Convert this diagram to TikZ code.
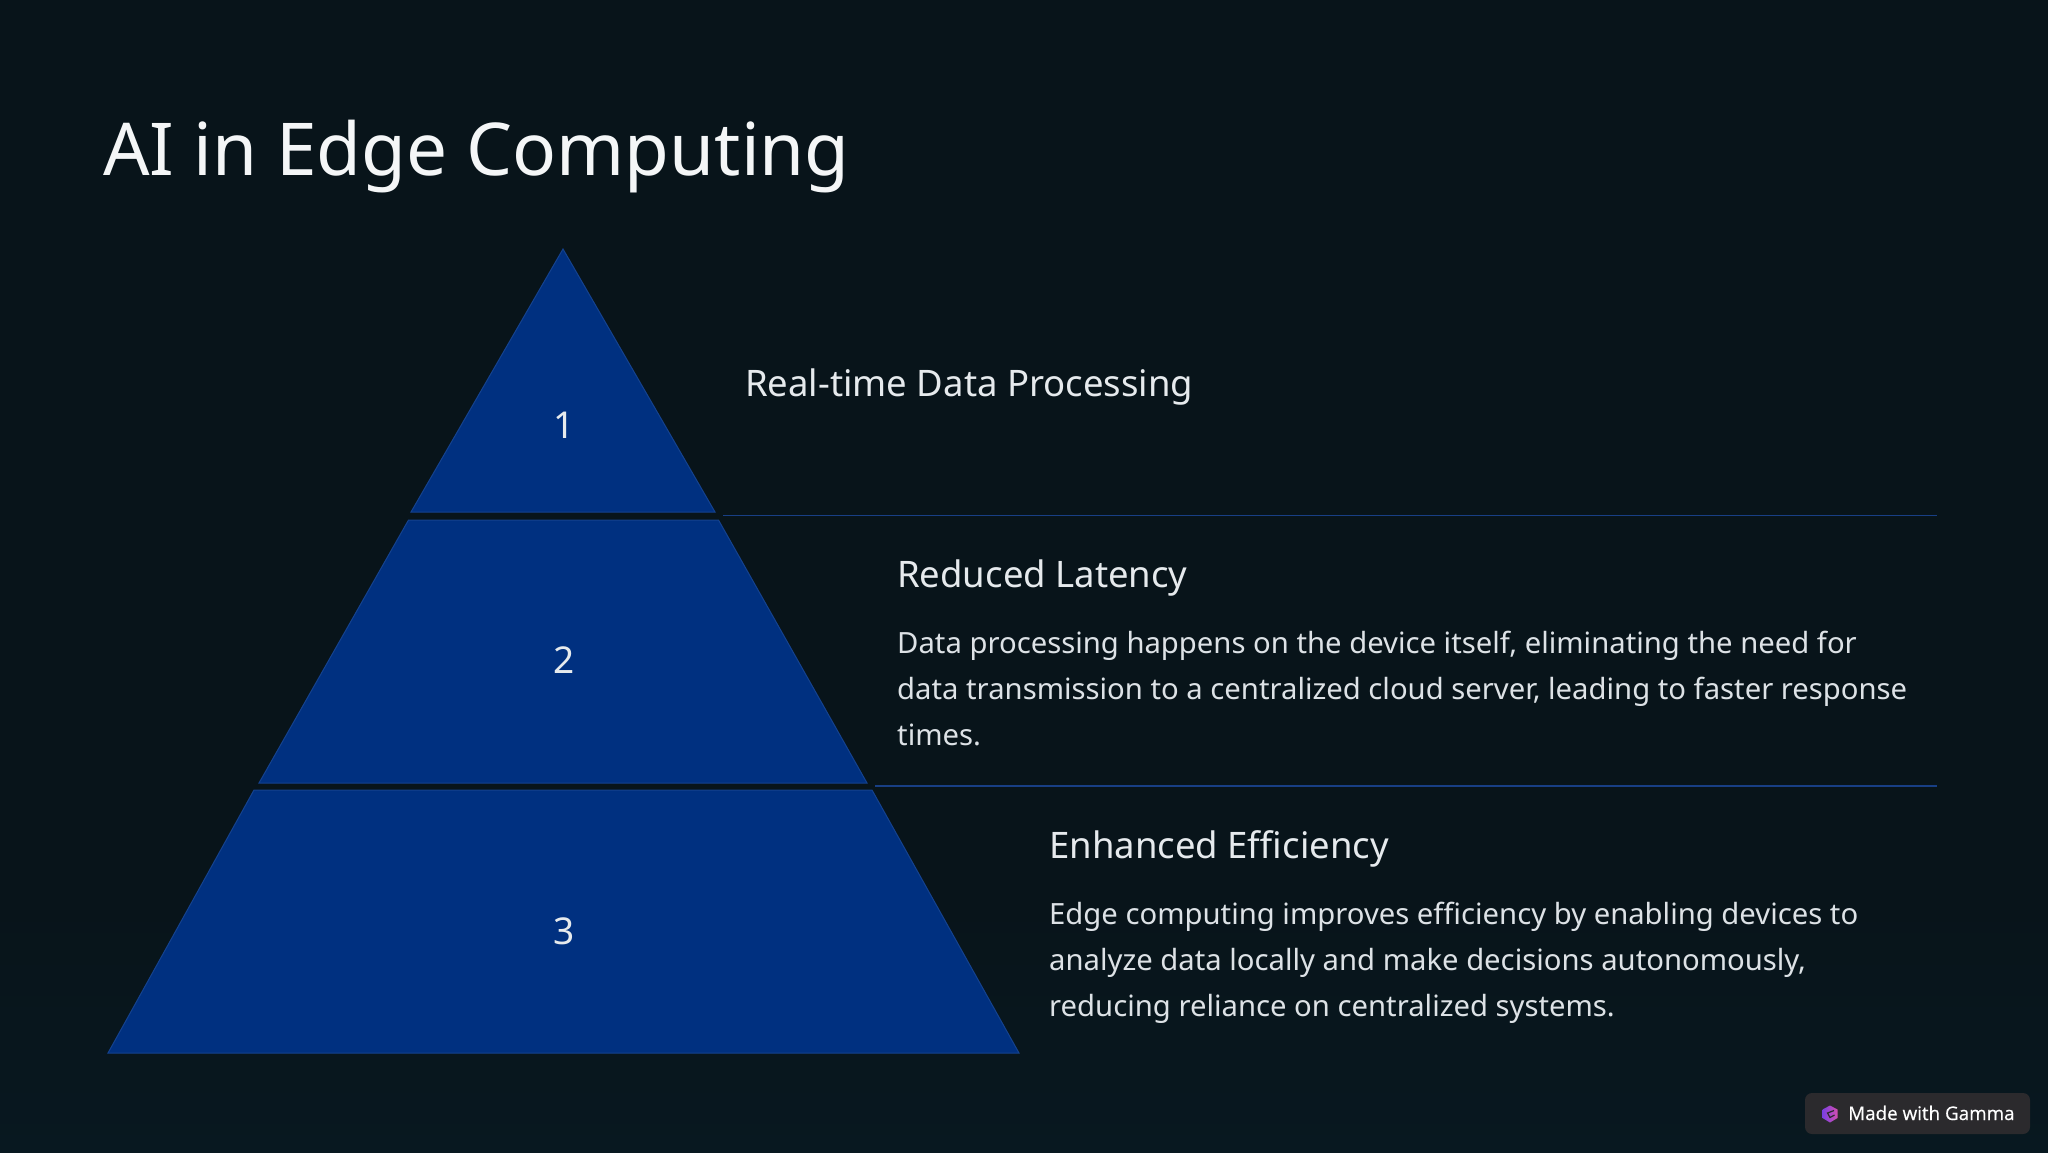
\documentclass[tikz,border=0pt]{standalone}
\usepackage{fontspec}
\setmainfont{Noto Sans}
\newfontfamily\badgefont[FakeBold=0.5]{Open Sans}
\usetikzlibrary{shadings}
\definecolor{bgdark}{HTML}{08141A}
\definecolor{bgedge}{HTML}{081820}
\definecolor{segblue}{HTML}{003080}
\definecolor{segline}{HTML}{14428F}
\definecolor{rulecol}{HTML}{183F85}
\definecolor{titletxt}{HTML}{F4F6F7}
\definecolor{headtxt}{HTML}{E6EAED}
\definecolor{bodytxt}{HTML}{DDE2E6}
\definecolor{badgebg}{HTML}{2B2A2D}
\definecolor{logoa}{HTML}{7B3FE0}
\definecolor{logob}{HTML}{D24FB0}
\tikzset{
  segment/.style={fill=segblue,draw=segline,line width=1pt,line join=miter},
  divider/.style={draw=rulecol,line width=1.5pt},
  numlabel/.style={text=headtxt,font=\fontsize{37}{44}\selectfont,inner sep=0pt,anchor=center},
  heading/.style={text=headtxt,font=\fontsize{36.5}{44}\selectfont,inner sep=0pt,anchor=base west},
  para/.style={text=bodytxt,font=\fontsize{29.25}{46}\selectfont,inner sep=0pt,anchor=north west,align=left},
}
\begin{document}
\begin{tikzpicture}[x=1pt,y=-1pt]
\useasboundingbox (0,0) rectangle (2048,1152);
\fill[bgdark] (-3,-3) rectangle (2051,1156);
\shade[top color=bgdark,bottom color=bgedge] (-3,900) rectangle (2051,1156);
\node[text=titletxt,font=\fontsize{72.9}{86}\selectfont,inner sep=0pt,anchor=base west] (title) at (103,175.5) {AI in Edge Computing};
\draw[segment] (563,249) -- (715,512) -- (411,512) -- cycle;
\draw[segment] (408.5,520) -- (718.5,520) -- (867,783) -- (259,783) -- cycle;
\draw[segment] (254,790) -- (872,790) -- (1019,1053) -- (108,1053) -- cycle;
\node[numlabel] (n1) at (564,425) {1};
\node[numlabel] (n2) at (564,660) {2};
\node[numlabel] (n3) at (564,931) {3};
\coordinate (r1a) at (723,515.5);
\coordinate (r1b) at (1937,515.5);
\coordinate (r2a) at (875,786);
\coordinate (r2b) at (1937,786);
\draw[divider] (r1a) -- (r1b);
\draw[divider] (r2a) -- (r2b);
\node[heading] (h1) at (745,396) {Real-time Data Processing};
\node[heading] (h2) at (897,587.5) {Reduced Latency};
\node[para] (p2) at (897,631) {Data processing happens on the device itself, eliminating the need for\\data transmission to a centralized cloud server, leading to faster response\\times.};
\node[heading] (h3) at (1049,858) {Enhanced Efficiency};
\node[para] (p3) at (1049,901.5) {Edge computing improves efficiency by enabling devices to\\analyze data locally and make decisions autonomously,\\reducing reliance on centralized systems.};
\fill[badgebg,rounded corners=7pt] (1805,1093) rectangle (2030,1134);
\shade[left color=logoa,right color=logob] (1830,1105.5) -- (1837.5,1109.5) -- (1837.5,1118) -- (1830,1122.5) -- (1822.5,1118) -- (1822.5,1109.5) -- cycle;
\draw[badgebg,line width=1.2pt] (1834,1110.5) -- (1827.5,1113) -- (1830,1117.5) -- (1834.5,1115);
\node[text=white,font=\badgefont\fontsize{18.8}{24}\selectfont,inner sep=0pt,anchor=base west] (badge) at (1848,1120) {Made with Gamma};
\end{tikzpicture}
\end{document}
